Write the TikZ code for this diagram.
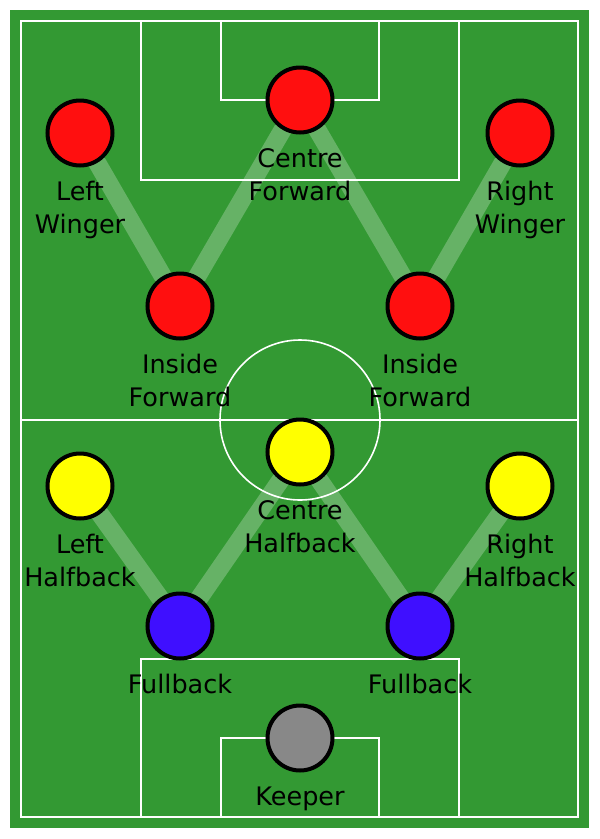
\documentclass[tikz,border=0pt]{standalone}
\usepackage{fontspec}
\setmainfont{DejaVu Sans}
\usetikzlibrary{backgrounds}
\definecolor{pitch}{RGB}{51,153,51}
\definecolor{fwdred}{RGB}{255,15,15}
\definecolor{halfyel}{RGB}{255,255,0}
\definecolor{fullblue}{RGB}{63,15,255}
\definecolor{keepgray}{RGB}{136,136,136}
\newcommand{\lblstrut}{\rule{0pt}{19pt}}
\tikzset{
  player/.style={circle, draw=black, line width=4pt, minimum size=65pt, inner sep=0pt},
  fieldline/.style={draw=white, line width=1.6pt},
  conn/.style={draw=white, draw opacity=0.25, line width=18pt},
  lbl/.style={anchor=north, inner sep=0pt, align=center, font=\fontsize{25.5}{33}\selectfont, text=black}
}
\begin{document}
\begin{tikzpicture}[x=1pt, y=-1pt]
\useasboundingbox (0,0) rectangle (600,839);
% players
\node[player, fill=fwdred] (lw) at (80,133) {};
\node[player, fill=fwdred] (cf) at (300,100) {};
\node[player, fill=fwdred] (rw) at (520,133) {};
\node[player, fill=fwdred] (ifl) at (180,306) {};
\node[player, fill=fwdred] (ifr) at (420,306) {};
\node[player, fill=halfyel] (lh) at (80,486) {};
\node[player, fill=halfyel] (ch) at (300,452) {};
\node[player, fill=halfyel] (rh) at (520,486) {};
\node[player, fill=fullblue] (fbl) at (180,626) {};
\node[player, fill=fullblue] (fbr) at (420,626) {};
\node[player, fill=keepgray] (gk) at (300,738) {};
% labels
\node[lbl] (lwl) at (80,181) {\lblstrut Left\\Winger};
\node[lbl] (cfl) at (300,148) {\lblstrut Centre\\Forward};
\node[lbl] (rwl) at (520,181) {\lblstrut Right\\Winger};
\node[lbl] (ifll) at (180,354) {\lblstrut Inside\\Forward};
\node[lbl] (ifrl) at (420,354) {\lblstrut Inside\\Forward};
\node[lbl] (lhl) at (80,534) {\lblstrut Left\\Halfback};
\node[lbl] (chl) at (300,500) {\lblstrut Centre\\Halfback};
\node[lbl] (rhl) at (520,534) {\lblstrut Right\\Halfback};
\node[lbl] (fbll) at (180,674) {\lblstrut Fullback};
\node[lbl] (fbrl) at (420,674) {\lblstrut Fullback};
\node[lbl] (gkl) at (300,786) {\lblstrut Keeper};
\begin{scope}[on background layer]
  % pitch
  \fill[pitch] (10,10) rectangle (589,828);
  \draw[fieldline] (21,21) rectangle (578,817);
  \draw[fieldline] (21,420) -- (578,420);
  \draw[fieldline] (300,420) circle[radius=80];
  \draw[fieldline] (141,21) rectangle (459,180);
  \draw[fieldline] (221,21) rectangle (379,100);
  \draw[fieldline] (141,817) rectangle (459,659);
  \draw[fieldline] (221,817) rectangle (379,738);
  % connectors
  \draw[conn] (lw.center) -- (ifl.center);
  \draw[conn] (ifl.center) -- (cf.center);
  \draw[conn] (cf.center) -- (ifr.center);
  \draw[conn] (ifr.center) -- (rw.center);
  \draw[conn] (lh.center) -- (fbl.center);
  \draw[conn] (fbl.center) -- (ch.center);
  \draw[conn] (ch.center) -- (fbr.center);
  \draw[conn] (fbr.center) -- (rh.center);
\end{scope}
\end{tikzpicture}
\end{document}
